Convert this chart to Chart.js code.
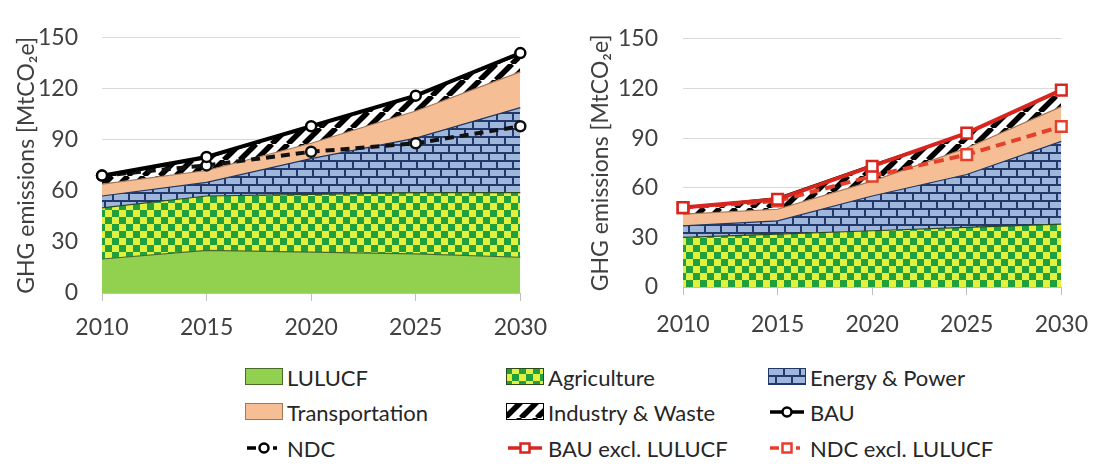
<!DOCTYPE html>
<html>
<head>
<meta charset="utf-8">
<script src="https://cdn.jsdelivr.net/npm/chart.js@4"></script>
<style>
  body { margin: 0; width: 1104px; height: 466px; background: #fff; position: relative; overflow: hidden; font-family: Lato, sans-serif; }
  #left { position: absolute; left: 0; top: 0; }
  #right { position: absolute; left: 560px; top: 0; }
  .item { position: absolute; height: 28px; display: flex; align-items: center; font-size: 22px; color: #262626; white-space: nowrap; }
  .item canvas { margin-right: 3px; }
</style>
</head>
<body>
<canvas id="left" width="560" height="345"></canvas>
<canvas id="right" width="544" height="345"></canvas>
<div id="legend"></div>
<script>
// emissions by sector, MtCO2e
const years = ['2010', '2015', '2020', '2025', '2030'];
const lulucf = [20, 25, 24, 23, 21];
const agriculture = [30, 32, 34, 36, 38];
const energy = [7, 8, 21, 32, 50];
const transport = [7, 7, 9, 16, 21];
const industry = [4, 7, 10, 9, 10];
const bau = [69, 80, 98, 116, 141];
const ndc = [69, 75, 83, 88, 98];
const bauExcl = [48, 53, 73, 93, 119];
const ndcExcl = [48, 52, 67, 80, 97];
const yTicks = [0, 30, 60, 90, 120, 150];

const FONT = 'Lato';
const TXT = '#404040';

function makePattern(w, h, draw) {
    const c = document.createElement('canvas');
    c.width = w; c.height = h;
    draw(c.getContext('2d'));
    return document.createElement('canvas').getContext('2d').createPattern(c, 'repeat');
}

const checker = makePattern(14, 14, g => {
    g.fillStyle = '#e4f03e'; g.fillRect(0, 0, 14, 14);
    g.fillStyle = '#20a03c'; g.fillRect(0, 0, 7, 7); g.fillRect(7, 7, 7, 7);
});
const bricks = makePattern(16, 16, g => {
    g.fillStyle = '#22396a'; g.fillRect(0, 0, 16, 16);
    g.fillStyle = '#9fb7dc';
    g.fillRect(2, 2, 14, 6);
    g.fillRect(10, 10, 14, 6); g.fillRect(-6, 10, 14, 6);
});
const stripes = makePattern(16, 16, g => {
    g.fillStyle = '#fff'; g.fillRect(0, 0, 16, 16);
    g.strokeStyle = '#000'; g.lineWidth = 5.5;
    for (const o of [-16, 0, 16]) {
        g.beginPath(); g.moveTo(o, 16); g.lineTo(o + 16, 0); g.stroke();
    }
});

const sector = {
    lulucf: { label: 'LULUCF', bg: '#92d050', border: '#4a6b2a' },
    agri: { label: 'Agriculture', bg: checker, border: '#2d4a1e' },
    energy: { label: 'Energy & Power', bg: bricks, border: '#1f3864' },
    transport: { label: 'Transportation', bg: '#f6be95', border: '#a47656' },
    industry: { label: 'Industry & Waste', bg: stripes, border: '#000' }
};

function area(key, data, fill) {
    const s = sector[key];
    return {
        label: s.label, data, backgroundColor: s.bg, borderColor: s.border,
        borderWidth: 1.2, fill, stack: 'sectors', pointRadius: 0, tension: 0
    };
}

function marked(label, data, color, style, radius, dash, stack) {
    return {
        label, data, borderColor: color, borderWidth: 4, borderDash: dash, fill: false, stack,
        pointStyle: style, pointRadius: radius, pointBackgroundColor: '#fff',
        pointBorderColor: color, pointBorderWidth: 2.5, tension: 0
    };
}

function options(o) {
    return {
        responsive: false,
        animation: false,
        layout: { padding: { top: o.top, right: o.right, left: 0, bottom: 0 } },
        plugins: { legend: { display: false }, tooltip: { enabled: false } },
        scales: {
            x: {
                offset: false,
                grid: { drawOnChartArea: false, color: '#bfbfbf', tickLength: 8 },
                border: { color: '#bfbfbf' },
                ticks: { padding: o.xPad, color: TXT, font: { family: FONT, size: 23 }, maxRotation: 0 },
                afterFit: s => { s.height = o.xHeight; }
            },
            y: {
                stacked: true, min: 0, max: 150,
                afterBuildTicks: s => { s.ticks = yTicks.map(v => ({ value: v })); },
                grid: { color: '#d9d9d9', drawTicks: false },
                border: { display: false },
                ticks: { padding: o.yPad, color: TXT, font: { family: FONT, size: 23 } },
                title: {
                    display: true, text: 'GHG emissions [MtCO₂e]', color: TXT,
                    font: { family: FONT, size: 23 }, padding: { top: o.titlePad, bottom: 0 }
                },
                afterFit: s => { s.width = o.yWidth; }
            }
        }
    };
}

new Chart(document.getElementById('left'), {
    type: 'line',
    data: {
        labels: years,
        datasets: [
            marked('BAU', bau, '#000', 'circle', 5, [], 'bau'),
            marked('NDC', ndc, '#111', 'circle', 5, [9, 6], 'ndc'),
            area('lulucf', lulucf, 'origin'),
            area('agri', agriculture, '-1'),
            area('energy', energy, '-1'),
            area('transport', transport, '-1'),
            area('industry', industry, '-1')
        ]
    },
    options: options({ top: 18, right: 29, xPad: 13, xHeight: 52, yPad: 24, yWidth: 102, titlePad: 13 })
});

new Chart(document.getElementById('right'), {
    type: 'line',
    data: {
        labels: years,
        datasets: [
            marked('BAU excl. LULUCF', bauExcl, '#d8261f', 'rect', 7.5, [], 'bau'),
            marked('NDC excl. LULUCF', ndcExcl, '#e5402c', 'rect', 7.5, [10, 6], 'ndc'),
            area('agri', agriculture, 'origin'),
            area('energy', energy, '-1'),
            area('transport', transport, '-1'),
            area('industry', industry, '-1')
        ]
    },
    options: options({ top: 16, right: 28, xPad: 16, xHeight: 58, yPad: 25, yWidth: 123, titlePad: 27 })
});

// legend swatches
function boxSwatch(fill, border) {
    return g => {
        g.fillStyle = fill; g.fillRect(1, 1, 38, 17);
        g.strokeStyle = border; g.lineWidth = 1; g.strokeRect(1.5, 1.5, 37, 16);
    };
}
function lineSwatch(color, square, dashed) {
    return g => {
        g.strokeStyle = color; g.lineWidth = 3.5;
        g.beginPath();
        if (dashed) {
            g.moveTo(3, 10); g.lineTo(12, 10);
            g.moveTo(29, 10); g.lineTo(33, 10);
        } else {
            g.moveTo(3, 10); g.lineTo(37, 10);
        }
        g.stroke();
        g.fillStyle = '#fff'; g.lineWidth = 2.5;
        g.beginPath();
        if (square) g.rect(15.5, 5.5, 9, 9); else g.arc(20, 10, 4.5, 0, Math.PI * 2);
        g.fill(); g.stroke();
    };
}

const legendItems = [
    ['LULUCF', 244, 377, boxSwatch('#92d050', '#4a6b2a')],
    ['Agriculture', 505, 377, boxSwatch(checker, '#2d4a1e')],
    ['Energy & Power', 767, 377, boxSwatch(bricks, '#1f3864')],
    ['Transportation', 244, 412, boxSwatch('#f6be95', '#a47656')],
    ['Industry & Waste', 505, 412, boxSwatch(stripes, '#000')],
    ['BAU', 767, 412, lineSwatch('#000', false, false)],
    ['NDC', 244, 448, lineSwatch('#000', false, true)],
    ['BAU excl. LULUCF', 505, 448, lineSwatch('#d8261f', true, false)],
    ['NDC excl. LULUCF', 767, 448, lineSwatch('#e5402c', true, true)]
];

const legend = document.getElementById('legend');
legendItems.forEach(([text, x, y, draw]) => {
    const item = document.createElement('div');
    item.className = 'item';
    item.style.left = x + 'px';
    item.style.top = (y - 14) + 'px';
    const c = document.createElement('canvas');
    c.width = 40; c.height = 20;
    draw(c.getContext('2d'));
    item.appendChild(c);
    item.appendChild(document.createTextNode(text));
    legend.appendChild(item);
});
</script>
</body>
</html>
